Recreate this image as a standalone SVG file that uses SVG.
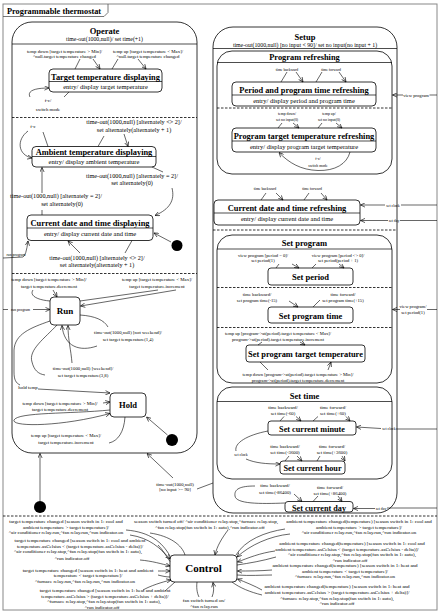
<svg xmlns="http://www.w3.org/2000/svg" width="439" height="612" viewBox="0 0 439 612">
<defs>
<marker id="a" viewBox="0 0 8 8" refX="7.6" refY="4" markerWidth="5" markerHeight="5" orient="auto" markerUnits="userSpaceOnUse"><path d="M0.3,0.6 L7.6,4 L0.3,7.4" fill="none" stroke="#000" stroke-width="1"/></marker>
</defs>
<style>
text{font-family:"Liberation Serif","Times New Roman",serif;text-anchor:middle;fill:#000}
.st{fill:#fff;stroke:#000;stroke-width:0.8}
.sp{stroke:#000;stroke-width:0.7}
.ds{stroke:#000;stroke-width:0.8;stroke-dasharray:2.5 1.5}
.ln{fill:none;stroke:#000;stroke-width:0.6}
.ar{fill:none;stroke:#000;stroke-width:0.6;marker-end:url(#a)}
.ttl{font-weight:bold;font-size:8.4px}
.hd{font-weight:bold;font-size:8.5px}
.nm{font-weight:bold;font-size:8.2px}
.en{font-size:6.5px}
.sub{font-size:5.8px}
.alt{font-size:6.2px}
.lb{font-size:4.8px}
.sm{font-size:3.8px}
.md{font-size:4.6px}
.ct{font-size:5px}
.dot{fill:#000}
</style>
<rect width="439" height="612" fill="#fff"/>
<g id="frame">
<rect x="3" y="4" width="434" height="606" fill="none" stroke="#888" stroke-width="1"/>
<path d="M3,16.5 H104 L108,12.5 V4" fill="none" stroke="#555" stroke-width="0.8"/>
<text x="7" y="13.5" style="text-anchor:start;font-weight:bold;font-size:8.3px">Programmable thermostat</text>
<line class="ds" x1="3" y1="516" x2="437" y2="516"/>
</g>
<g id="operate">
<rect class="st" x="12" y="22" width="185" height="431" rx="20"/>
<text class="hd" x="104.5" y="34">Operate</text>
<text class="sub" x="104.5" y="40.5">time-out(1000,null)/ set time(+1)</text>
<line class="sp" x1="12" y1="44" x2="197" y2="44"/>
<line class="ds" x1="12" y1="117.5" x2="197" y2="117.5"/>
<line class="ds" x1="12" y1="273.5" x2="197" y2="273.5"/>
</g>
<g id="target-temperature-displaying">
<rect class="st" x="49" y="69" width="113" height="23" rx="4"/>
<text class="ttl" x="105.5" y="79.5">Target temperature displaying</text>
<line class="sp" x1="49" y1="81.5" x2="162" y2="81.5"/>
<text class="en" x="105.5" y="89">entry/ display target temperature</text>
</g>
<g id="ambient-temperature-displaying">
<rect class="st" x="32" y="146.5" width="124" height="20.5" rx="4"/>
<text class="ttl" x="94" y="154.5">Ambient temperature displaying</text>
<line class="sp" x1="32" y1="156.5" x2="156" y2="156.5"/>
<text class="en" x="94" y="163.5">entry/ display ambient temperature</text>
</g>
<g id="current-date-displaying">
<rect class="st" x="27" y="215" width="126" height="25.5" rx="4"/>
<text class="ttl" x="90" y="225.5">Current date and time displaying</text>
<line class="sp" x1="27" y1="228" x2="153" y2="228"/>
<text class="en" x="90" y="236">entry/ display current date and time</text>
</g>
<g id="run"><rect class="st" x="50" y="297" width="30" height="28" rx="4"/><text x="65" y="314" style="font-weight:bold;font-size:9px">Run</text></g>
<g id="hold"><rect class="st" x="110" y="393" width="36" height="24" rx="4"/><text x="128" y="408" style="font-weight:bold;font-size:8.5px">Hold</text></g>
<g id="initials">
<circle class="dot" cx="177" cy="245.5" r="5.5"/>
<circle class="dot" cx="172" cy="440" r="6"/>
<circle class="dot" cx="40" cy="507" r="6"/>
</g>
<g id="setup">
<rect class="st" x="213" y="27" width="184" height="486" rx="20"/>
<text class="hd" x="305" y="40">Setup</text>
<text class="sub" x="305" y="46.5">time-out(1000,null) [no input &lt; 90]/ set no input(no input + 1)</text>
<line class="sp" x1="213" y1="48.5" x2="397" y2="48.5"/>
<line class="ds" x1="213" y1="230" x2="397" y2="230"/>
</g>
<g id="program-refreshing">
<rect class="st" x="217" y="51" width="175" height="123" rx="15"/>
<text class="ttl" x="304.5" y="59.5">Program refreshing</text>
<line class="sp" x1="217" y1="62.5" x2="392" y2="62.5"/>
<line class="ds" x1="217" y1="108" x2="392" y2="108"/>
</g>
<g id="period-refreshing">
<rect class="st" x="232" y="82" width="144" height="24" rx="4"/>
<text class="ttl" x="304" y="92.5">Period and program time refreshing</text>
<line class="sp" x1="232" y1="95" x2="376" y2="95"/>
<text class="en" x="304" y="102.5">entry/ display period and program time</text>
</g>
<g id="program-target-refreshing">
<rect class="st" x="232" y="128" width="144" height="24" rx="4"/>
<text class="ttl" x="304" y="138.5">Program target temperature refreshing</text>
<line class="sp" x1="232" y1="141" x2="376" y2="141"/>
<text class="en" x="304" y="148.5">entry/ display program target temperature</text>
</g>
<g id="current-date-refreshing">
<rect class="st" x="214" y="200" width="146" height="25" rx="4"/>
<text class="ttl" x="287" y="210.5">Current date and time refreshing</text>
<line class="sp" x1="214" y1="213" x2="360" y2="213"/>
<text class="en" x="287" y="221">entry/ display current date and time</text>
</g>
<g id="set-program">
<rect class="st" x="217" y="235" width="175" height="148" rx="15"/>
<text class="hd" x="304.5" y="246">Set program</text>
<line class="sp" x1="217" y1="249" x2="392" y2="249"/>
<line class="ds" x1="217" y1="287.5" x2="392" y2="287.5"/>
<line class="ds" x1="217" y1="327.5" x2="392" y2="327.5"/>
</g>
<g id="set-period"><rect class="st" x="268" y="268" width="85" height="17" rx="3"/><text class="hd" x="310.5" y="280">Set period</text></g>
<g id="set-program-time"><rect class="st" x="268" y="307" width="85" height="16" rx="3"/><text class="hd" x="310.5" y="318.5">Set program time</text></g>
<g id="set-program-target"><rect class="st" x="246" y="345" width="119" height="17" rx="3"/><text class="ttl" x="305.5" y="357">Set program target temperature</text></g>
<g id="set-time">
<rect class="st" x="217" y="387" width="175" height="92" rx="15"/>
<text class="hd" x="304.5" y="398.5">Set time</text>
<line class="sp" x1="217" y1="401.5" x2="392" y2="401.5"/>
</g>
<g id="set-minute"><rect class="st" x="268" y="421" width="88" height="14" rx="3"/><text class="nm" x="312" y="431.5">Set current minute</text></g>
<g id="set-hour"><rect class="st" x="280" y="461" width="65" height="13" rx="3"/><text class="nm" x="312.5" y="471">Set current hour</text></g>
<g id="set-day"><rect class="st" x="285" y="501.5" width="68" height="10.5" rx="3"/><text class="nm" x="319" y="510.5">Set current day</text></g>
<g id="control"><rect class="st" x="170" y="555" width="67" height="27" rx="4"/><text x="203.5" y="572" style="font-weight:bold;font-size:11px">Control</text></g>
<g id="connectors">
<path class="ln" d="M80,59 L75,69"/><path class="ar" d="M93,59 L100,69"/>
<path class="ln" d="M118,59 L112,69"/><path class="ar" d="M138,59 L146,69"/>
<path class="ar" d="M30,97 C27,91 34,88 49,88"/><path class="ln" d="M64,97 L69,92"/>
<path class="ar" d="M28,131 C16,140 18,155 32,158"/><path class="ln" d="M43,132 L48,146.5"/>
<path class="ln" d="M98,146.5 L104,136"/><path class="ar" d="M124,134 L128,146.5"/>
<path class="ln" d="M152,167 L163,172"/>
<path class="ar" d="M172,188 C175,200 170,209 155,215.5"/>
<path class="ar" d="M42,193 L42,167.5"/><path class="ln" d="M42,210 L42,215"/>
<path class="ar" d="M171,242 L154,233"/>
<path class="ar" d="M3,258 L23,257 Q26,256 28,241"/>
<path class="ar" d="M80,253 L68,241"/><path class="ln" d="M125,253 L132,240.5"/>
<path class="ln" d="M50,301 C38,300 29,296 33,290"/><path class="ar" d="M53,290 L57,297"/>
<path class="ln" d="M158,290 L80,301"/><path class="ar" d="M176,290 L80.5,306"/>
<path class="ln" d="M3,309.5 H8"/><path class="ar" d="M33,309.5 H50"/>
<path class="ln" d="M80,315 C95,316 104,320 108,327"/>
<path class="ar" d="M97,346 C80,352 64,347 62,325.5"/>
<path class="ln" d="M57,325 C45,338 28,350 32,362 C34,370 38,374 45,375"/>
<path class="ar" d="M72,363 C71,350 68,340 68,325.5"/>
<path class="ln" d="M50,321 C30,328 15,334 14,350 L14,372 C14,380 16,383 20,385"/>
<path class="ar" d="M38,389 L110,393"/>
<path class="ar" d="M103,403 L110,402"/>
<path class="ar" d="M110,410 C70,414 18,412 14,420 C11,427 60,427 110,413.5"/>
<path class="ln" d="M109,443 C118,441 124,432 125,417"/>
<path class="ar" d="M167.5,435 L146.5,417"/>
<path class="ar" d="M40,501 L40,453.5"/>
<path class="ar" d="M173,478 L147,453.5"/><path class="ln" d="M197,489 L213,483"/>
<path class="ln" d="M287,72 L281,82"/><path class="ar" d="M296,72 L303,82"/>
<path class="ln" d="M322,72 L316,82"/><path class="ar" d="M339,72 L346,82"/>
<path class="ln" d="M437,95 H429.5"/><path class="ar" d="M403,95 H392.5"/>
<path class="ln" d="M282,123 L278,128"/><path class="ar" d="M293,123 L299,128"/>
<path class="ln" d="M322,123 L318,128"/><path class="ar" d="M336,123 L342,128"/>
<path class="ar" d="M350,152 C347,164 335,171 318,170.5 C301,170 289,163 279,152.5"/>
<path class="ln" d="M266,193 L261,200"/><path class="ar" d="M276,193 L283,200"/>
<path class="ln" d="M309,193 L304,200"/><path class="ar" d="M321,193 L327,200"/>
<path class="ln" d="M437,205 H401"/><path class="ar" d="M385,205 H360.5"/>
<path class="ln" d="M437,220.5 H400"/><path class="ar" d="M388,220.5 H360.5"/>
<path class="ln" d="M279,264 L276,268"/><path class="ar" d="M292,264 L299,268"/>
<path class="ln" d="M316,264 L312,268"/><path class="ar" d="M339,264 L344,268"/>
<path class="ar" d="M289,301 L298,307"/><path class="ln" d="M313,307 L320,300"/>
<path class="ln" d="M437,309.5 H427"/><path class="ar" d="M400,309.5 H392.5"/>
<path class="ar" d="M300,342 L305,345"/><path class="ln" d="M258,345 L262,342"/>
<path class="ln" d="M268,370 L260,362"/><path class="ar" d="M328,370 L331,362"/>
<path class="ln" d="M284,416.5 L280,421"/><path class="ar" d="M296,416.5 L301,421"/>
<path class="ln" d="M318,416.5 L313,421"/><path class="ar" d="M346,416.5 L350,421"/>
<path class="ln" d="M437,429 H396"/><path class="ar" d="M381,428.5 L356.5,427"/>
<path class="ln" d="M268,431 C247,435 234,443 236,451"/>
<path class="ar" d="M246,459 C255,463 266,464 280,464"/>
<path class="ln" d="M289,456 L285,461"/><path class="ar" d="M297,456 L302,461"/>
<path class="ln" d="M320,456 L317,461"/><path class="ar" d="M342,456 L345,461"/>
<path class="ln" d="M285,503 C260,504 236,504 235,496 C234,489 240,486 255,486"/>
<path class="ar" d="M294,494 L302,501.5"/><path class="ln" d="M313,501.5 L318,496"/>
<path class="ar" d="M338,496 L342,501.5"/>
<path class="ln" d="M437,508 H387"/><path class="ar" d="M375,508.5 H353.5"/>
<path class="ln" d="M126,530 C150,532 162,542 170,556"/>
<path class="ar" d="M130,535 C150,538 160,548 170,559"/>
<path class="ln" d="M158,545 C163,550 166,556 170,561.5"/>
<path class="ar" d="M140,560 C152,561 162,564 170,566"/>
<path class="ar" d="M158,571 C163,571 166,571 170,571"/>
<path class="ln" d="M158,575 C162,576 166,577 170,577"/>
<path class="ar" d="M143,590 C150,586 162,582 171,580"/>
<path class="ln" d="M165,591 C168,588 172,585 175,582"/>
<path class="ln" d="M185,555 C182,545 170,536 150,533"/>
<path class="ar" d="M228,530 C222,538 217,546 215,555"/>
<path class="ln" d="M197,582 C196,590 198,595 199,597"/>
<path class="ar" d="M212,597 C214,592 214,588 213,582.5"/>
<path class="ar" d="M290,534 C270,536 250,545 237,557"/>
<path class="ln" d="M236,555 C245,540 265,532 285,529"/>
<path class="ar" d="M275,551 C260,553 248,558 237.5,562"/>
<path class="ln" d="M237,565 C250,563 262,561 276,557"/>
<path class="ar" d="M272,570 C260,571 248,571 237.5,571"/>
<path class="ln" d="M237,575 C250,576 262,575 272,575"/>
<path class="ar" d="M262,590 C255,586 245,582 237.5,579"/>
<path class="ln" d="M232,582 C240,588 250,592 262,595"/>
</g>
<g id="labels">
<text class="lb" x="64.5" y="52.5">temp down [target temperature &gt; Min]/</text>
<text class="lb" x="64.5" y="58">^null.target temperature changed</text>
<text class="lb" x="148" y="52.5">temp up [target temperature &lt; Max]/</text>
<text class="lb" x="148" y="58">^null.target temperature changed</text>
<text class="lb" x="48" y="101.5">f-c/</text>
<text class="lb" x="48" y="110.5">switch mode</text>
<text class="lb" x="33" y="128">f-c</text>
<text class="alt" x="134" y="123.5">time-out(1000,null) [alternately &lt;&gt; 2]/</text>
<text class="alt" x="134" y="131.5">set alternately(alternately + 1)</text>
<text class="alt" x="132" y="177.5">time-out(1000,null) [alternately = 2]/</text>
<text class="alt" x="132" y="185">set alternately(0)</text>
<text class="alt" x="56" y="198">time-out(1000,null) [alternately = 2]/</text>
<text class="alt" x="62" y="205.5">set alternately(0)</text>
<text class="sm" x="16" y="255.5">run program</text>
<text class="alt" x="97" y="259.5">time-out(1000,null) [alternately &lt;&gt; 2]/</text>
<text class="alt" x="97" y="267">set alternately(alternately + 1)</text>
<text class="lb" x="49" y="281">temp down [target temperature &gt; Min]/</text>
<text class="lb" x="49" y="287.5">target temperature.decrement</text>
<text class="lb" x="157" y="281">temp up [target temperature &lt; Max]/</text>
<text class="lb" x="157" y="287.5">target temperature.increment</text>
<text class="sm" x="20.5" y="310.8">run program</text>
<text class="lb" x="128" y="333.5">time-out(1000,null) [not weekend]/</text>
<text class="lb" x="128" y="340.5">set target temperature(1,4)</text>
<text class="lb" x="83" y="369.5">time-out(1000,null) [weekend]/</text>
<text class="lb" x="83" y="376.5">set target temperature(3,8)</text>
<text class="lb" x="28" y="389">hold temp</text>
<text class="lb" x="60" y="405">temp down [target temperature &gt; Min]/</text>
<text class="lb" x="60" y="411">target temperature.decrement</text>
<text class="lb" x="66" y="437">temp up [target temperature &lt; Max]/</text>
<text class="lb" x="66" y="444">target temperature.increment</text>
<text class="lb" x="175" y="485.5">time-out(1000,null)</text>
<text class="lb" x="175" y="491">[no input &gt;= 90]</text>
<text class="sm" x="287" y="70.5">time backward</text>
<text class="sm" x="331" y="70.5">time forward</text>
<text class="md" x="416" y="96.5">view program</text>
<text class="sm" x="287" y="115">temp down/</text>
<text class="sm" x="287" y="120.5">set no input(0)</text>
<text class="sm" x="329" y="115">temp up/</text>
<text class="sm" x="329" y="120.5">set no input(0)</text>
<text class="sm" x="318" y="160">f-c/</text>
<text class="sm" x="318" y="166.5">switch mode</text>
<text class="sm" x="265" y="189.5">time backward</text>
<text class="sm" x="312" y="190">time forward</text>
<text class="sm" x="393" y="206.5">set clock</text>
<text class="sm" x="394" y="221.5">set day</text>
<text class="md" x="263" y="256.5">view program [period = 0]/</text>
<text class="md" x="263" y="262">set period(1)</text>
<text class="md" x="338" y="256.5">view program [period &lt;&gt; 0]/</text>
<text class="md" x="338" y="262">set period(period + 1)</text>
<text class="md" x="257" y="295.5">time backward/</text>
<text class="md" x="257" y="301.5">set program time(-15)</text>
<text class="md" x="343" y="295.5">time forward/</text>
<text class="md" x="343" y="301.5">set program time(+15)</text>
<text class="md" x="413" y="308">view program/</text>
<text class="md" x="413" y="314">set period(1)</text>
<text class="md" x="278" y="334.5">temp up [program-&gt;at(period).target temperature &lt; Max]/</text>
<text class="md" x="278" y="340.5">program-&gt;at(period).target temperature.increment</text>
<text class="md" x="298" y="375.5">temp down [program-&gt;at(period).target temperature &gt; Min]/</text>
<text class="md" x="298" y="381.5">program-&gt;at(period).target temperature.decrement</text>
<text class="lb" x="283" y="408.5">time backward/</text>
<text class="lb" x="283" y="414.5">set time(-60)</text>
<text class="lb" x="333" y="408.5">time forward/</text>
<text class="lb" x="333" y="414.5">set time(+60)</text>
<text class="sm" x="389" y="429.5">set clock</text>
<text class="sm" x="241" y="456">set clock</text>
<text class="lb" x="285" y="447.5">time backward/</text>
<text class="lb" x="285" y="454">set time(-3600)</text>
<text class="lb" x="332" y="447.5">time forward/</text>
<text class="lb" x="332" y="454">set time(+3600)</text>
<text class="lb" x="275" y="487">time backward/</text>
<text class="lb" x="275" y="493.5">set time(-86400)</text>
<text class="lb" x="330" y="488.5">time forward/</text>
<text class="lb" x="330" y="495">set time(+86400)</text>
<text class="sm" x="381" y="509.5">set day</text>
<text class="ct" x="66" y="523">target temperature changed [season switch in 1: cool and</text>
<text class="ct" x="66" y="528.5">ambient temperature &gt; target temperature]/</text>
<text class="ct" x="66" y="534">^air conditioner relay.run,^fan relay.run,^run indicator.on</text>
<text class="ct" x="80" y="541.5">target temperature changed [season switch in 1: cool and ambient</text>
<text class="ct" x="80" y="547.5">temperature.asCelsius &lt; (target temperature.asCelsius - delta)]/</text>
<text class="ct" x="78" y="553">^air conditioner relay.stop,^fan relay.stop(fan switch in 1: auto),</text>
<text class="ct" x="72" y="559.5">^run indicator.off</text>
<text class="ct" x="88" y="571.5">target temperature changed [season switch in 1: heat and ambient</text>
<text class="ct" x="88" y="577">temperature &lt; target temperature]/</text>
<text class="ct" x="85" y="583">^furnace relay.run,^fan relay.run,^run indicator.on</text>
<text class="ct" x="105" y="591.5">target temperature changed [season switch in 1: heat and ambient</text>
<text class="ct" x="105" y="597.5">temperature.asCelsius &gt; (target temperature.asCelsius + delta)]/</text>
<text class="ct" x="104" y="603">^furnace relay.stop,^fan relay.stop(fan switch in 1: auto),</text>
<text class="ct" x="102" y="608.5">^run indicator.off</text>
<text class="ct" x="206" y="523">season switch turned off/ ^air conditioner relay.stop,^furnace relay.stop,</text>
<text class="ct" x="210" y="528.5">^fan relay.stop(fan switch in 1: auto),^run indicator.off</text>
<text class="ct" x="359" y="523">ambient temperature changed(temperature) [season switch in 1: cool and</text>
<text class="ct" x="359" y="528.5">ambient temperature &gt; target temperature]/</text>
<text class="ct" x="359" y="534">^air conditioner relay.run,^fan relay.run,^run indicator.on</text>
<text class="ct" x="352" y="545">ambient temperature changed(temperature) [season switch in 1: cool and</text>
<text class="ct" x="347" y="550.5">ambient temperature.asCelsius &lt; (target temperature.asCelsius - delta)]/</text>
<text class="ct" x="352" y="556">^air conditioner relay.stop,^fan relay.stop(fan switch in 1: auto),</text>
<text class="ct" x="350" y="561.5">^run indicator.off</text>
<text class="ct" x="345" y="567">ambient temperature changed(temperature) [season switch in 1: heat and</text>
<text class="ct" x="345" y="572.5">ambient temperature &lt; target temperature]/</text>
<text class="ct" x="345" y="578">^furnace relay.run,^fan relay.run,^run indicator.on</text>
<text class="ct" x="337" y="588">ambient temperature changed(temperature) [season switch in 1: heat and</text>
<text class="ct" x="337" y="594">ambient temperature.asCelsius &gt; (target temperature.asCelsius + delta)]/</text>
<text class="ct" x="337" y="599.5">^furnace relay.stop,^fan relay.stop(fan switch in 1: auto),</text>
<text class="ct" x="337" y="605">^run indicator.off</text>
<text class="ct" x="204" y="601.5">fan switch turned on/</text>
<text class="ct" x="204" y="607.5">^fan relay.run</text>
</g>
</svg>
